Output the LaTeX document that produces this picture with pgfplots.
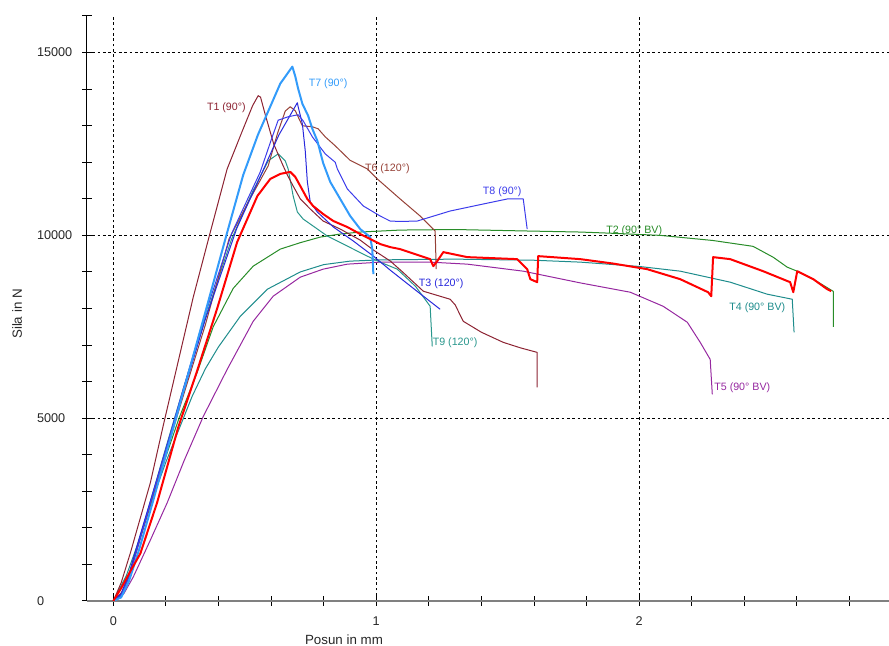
\documentclass[border=0pt]{standalone}
\usepackage{fontspec}
\setmainfont{Liberation Sans}
\usepackage{pgfplots}
\pgfplotsset{compat=1.18}
\definecolor{cTone}{RGB}{140,35,50}
\definecolor{cTsix}{RGB}{150,65,55}
\definecolor{cTseven}{RGB}{50,155,250}
\definecolor{cTeight}{RGB}{60,60,235}
\definecolor{cTthree}{RGB}{40,40,220}
\definecolor{cTtwo}{RGB}{40,140,40}
\definecolor{cTfour}{RGB}{30,140,140}
\definecolor{cTnine}{RGB}{40,150,140}
\definecolor{cTfive}{RGB}{150,40,160}
\definecolor{cRed}{RGB}{255,0,0}
\begin{document}
\begin{tikzpicture}
\path[use as bounding box] (-65.25pt,-33.75pt) rectangle (601.5pt,450.75pt);
\begin{axis}[
  at={(0pt,0pt)}, anchor=south west,
  scale only axis, width=601.5pt, height=438.75pt,
  xmin=-0.1, xmax=2.95, ymin=0, ymax=16000,
  axis lines=left,
  axis line style={-},
  x axis line style={-, draw=black!50, line width=1.1pt},
  y axis line style={-, draw=black, line width=0.75pt},
  xtick={0,1,2},
  minor xtick={0.2,0.4,0.6,0.8,1.2,1.4,1.6,1.8,2.2,2.4,2.6,2.8},
  ytick={0,5000,10000,15000},
  minor ytick={1000,2000,3000,4000,6000,7000,8000,9000,11000,12000,13000,14000,16000},
  tick align=center, major tick length=7pt, minor tick length=7pt,
  every tick/.style={black, line width=0.75pt},
  minor tick style={black, line width=0.75pt},
  major tick style={black, line width=0.75pt},
  xmajorgrids, ymajorgrids,
  major grid style={black, line width=0.6pt, dash pattern=on 2pt off 2pt},
  scaled y ticks=false, scaled x ticks=false,
  /pgf/number format/1000 sep={},
  /pgf/number format/assume math mode=true,
  ticklabel style={font=\fontsize{9.5}{11.5}\selectfont, text=black!85},
  yticklabel style={anchor=west, xshift=-37.5pt},
  xticklabel style={yshift=-5pt},
  every axis plot/.append style={line join=round},
]
% T5
\addplot[cTfive, line width=0.75pt] coordinates {(0,0)(0.04,200)(0.076,658)(0.14,1650)(0.205,2687)(0.27,3850)(0.342,5045)(0.433,6334)(0.532,7650)(0.608,8336)(0.711,8857)(0.798,9076)(0.890,9213)(1.015,9268)(1.2,9270)(1.346,9213)(1.559,9021)(1.776,8700)(1.966,8445)(2.091,8061)(2.183,7623)(2.232,7074)(2.270,6608)(2.278,5649)};
% T4
\addplot[cTfour, line width=0.75pt] coordinates {(0,0)(0.05,700)(0.1,1700)(0.15,2800)(0.2,3800)(0.25,4700)(0.3,5600)(0.35,6350)(0.4,6950)(0.483,7787)(0.586,8528)(0.711,9000)(0.80,9200)(0.9,9295)(1.015,9330)(1.3,9350)(1.6,9320)(1.776,9268)(2.0,9150)(2.156,9021)(2.346,8720)(2.487,8391)(2.582,8253)(2.589,7349)};
% T2
\addplot[cTtwo, line width=0.75pt] coordinates {(0,0)(0.03,200)(0.06,700)(0.1,1700)(0.15,2850)(0.2,3950)(0.25,5000)(0.319,6250)(0.38,7500)(0.456,8550)(0.532,9158)(0.635,9624)(0.711,9800)(0.787,9953)(0.863,10036)(0.939,10091)(1.015,10118)(1.091,10145)(1.3,10160)(1.57,10120)(1.776,10091)(1.878,10063)(2.08,10000)(2.28,9860)(2.433,9700)(2.51,9400)(2.563,9130)(2.601,9020)(2.662,8800)(2.738,8470)(2.738,7500)};
% T9
\addplot[cTnine, line width=0.75pt] coordinates {(0,0)(0.03,150)(0.06,700)(0.1,1700)(0.15,2950)(0.2,4200)(0.27,5900)(0.35,7750)(0.45,9900)(0.53,11200)(0.589,12037)(0.627,12229)(0.654,12037)(0.665,11818)(0.684,11078)(0.700,10639)(0.722,10447)(0.760,10255)(0.814,9981)(0.890,9707)(0.966,9432)(1.015,9268)(1.080,9076)(1.15,8600)(1.205,8061)(1.213,6965)};
% T6
\addplot[cTsix, line width=0.75pt] coordinates {(0,0)(0.04,300)(0.08,1150)(0.15,2850)(0.2,4050)(0.27,5700)(0.35,7550)(0.44,9900)(0.52,11000)(0.589,11900)(0.625,12800)(0.654,13400)(0.673,13518)(0.692,13408)(0.719,12997)(0.757,12970)(0.779,12915)(0.806,12695)(0.844,12449)(0.901,12050)(0.966,11818)(1.004,11544)(1.091,10995)(1.167,10529)(1.224,10118)(1.228,9076)};
% T1
\addplot[cTone, line width=0.75pt] coordinates {(0,0)(0.03,500)(0.065,1316)(0.141,3236)(0.19,4800)(0.25,6650)(0.304,8308)(0.369,10091)(0.433,11818)(0.494,12915)(0.53,13550)(0.551,13820)(0.56,13780)(0.578,13300)(0.61,12500)(0.643,11950)(0.662,11650)(0.684,11350)(0.711,11000)(0.749,10721)(0.798,10392)(0.863,10173)(0.939,9870)(0.989,9600)(1.053,9300)(1.10,9000)(1.179,8473)(1.281,8253)(1.30,8100)(1.331,7650)(1.40,7350)(1.483,7074)(1.55,6920)(1.612,6800)(1.612,5840)};
% T3
\addplot[cTthree, line width=0.75pt] coordinates {(0,0)(0.03,200)(0.06,750)(0.1,1750)(0.15,2950)(0.2,4150)(0.26,5550)(0.35,7700)(0.47,10200)(0.567,11736)(0.63,12750)(0.70,13628)(0.703,13518)(0.719,13052)(0.730,12312)(0.738,11462)(0.749,10913)(0.776,10639)(0.837,10228)(0.913,9844)(0.989,9432)(1.053,9050)(1.15,8500)(1.243,7979)};
% T8
\addplot[cTeight, line width=0.75pt] coordinates {(0,0)(0.03,150)(0.06,650)(0.1,1650)(0.15,2900)(0.2,4150)(0.26,5650)(0.35,7850)(0.45,10050)(0.559,11736)(0.6,12600)(0.627,13150)(0.665,13244)(0.703,13299)(0.722,13134)(0.757,12695)(0.806,12229)(0.844,12000)(0.852,11818)(0.890,11270)(0.951,10803)(1.015,10529)(1.053,10392)(1.091,10380)(1.156,10392)(1.281,10666)(1.407,10858)(1.498,10995)(1.559,10995)(1.574,10173)};
% T7
\addplot[cTseven, line width=1.5pt] coordinates {(0,0)(0.03,100)(0.06,550)(0.1,1450)(0.15,2700)(0.2,4000)(0.25,5300)(0.3,6600)(0.35,7900)(0.43,10000)(0.494,11650)(0.55,12750)(0.635,14150)(0.681,14615)(0.692,14350)(0.703,14012)(0.719,13600)(0.741,13271)(0.757,12915)(0.776,12586)(0.798,11980)(0.825,11462)(0.863,10995)(0.901,10529)(0.939,10173)(0.977,9953)(0.985,9624)(0.989,8939)};
% red
\addplot[cRed, line width=1.5pt] coordinates {(0,0)(0.03,350)(0.06,750)(0.103,1300)(0.167,2700)(0.247,4750)(0.319,6300)(0.395,8000)(0.471,9816)(0.548,11078)(0.597,11544)(0.635,11681)(0.673,11736)(0.692,11599)(0.711,11352)(0.738,10995)(0.760,10803)(0.798,10584)(0.837,10392)(0.890,10228)(0.939,10036)(0.977,9899)(1.015,9762)(1.053,9679)(1.091,9624)(1.205,9350)(1.217,9158)(1.232,9295)(1.255,9542)(1.346,9405)(1.536,9350)(1.574,9076)(1.586,8802)(1.612,8720)(1.616,9432)(1.776,9350)(1.9,9230)(2.030,9076)(2.156,8802)(2.262,8445)(2.274,8336)(2.281,9405)(2.346,9350)(2.471,9021)(2.574,8720)(2.586,8445)(2.601,9021)(2.662,8802)(2.715,8528)(2.730,8473)};
% labels
\begin{scope}[every node/.style={font=\fontsize{8}{9.6}\selectfont, inner sep=0pt}]
\node[text=cTone] at (axis cs:0.430,13490) {T1 (90°)};
\node[text=cTseven] at (axis cs:0.817,14149) {T7 (90°)};
\node[text=cTsix] at (axis cs:1.042,11818) {T6 (120°)};
\node[text=cTeight] at (axis cs:1.479,11187) {T8 (90°)};
\node[text=cTtwo] at (axis cs:1.981,10118) {T2 (90° BV)};
\node[text=cTthree] at (axis cs:1.247,8664) {T3 (120°)};
\node[text=cTfour] at (axis cs:2.449,8034) {T4 (90° BV)};
\node[text=cTnine] at (axis cs:1.300,7074) {T9 (120°)};
\node[text=cTfive] at (axis cs:2.392,5840) {T5 (90° BV)};
\end{scope}
\end{axis}
\node[font=\fontsize{10}{12}\selectfont, text=black!85] at (192.75pt,-29.25pt) {Posun in mm};
\node[font=\fontsize{10}{12}\selectfont, text=black!85, rotate=90] at (-52.5pt,215.25pt) {Sila in N};
\end{tikzpicture}
\end{document}
